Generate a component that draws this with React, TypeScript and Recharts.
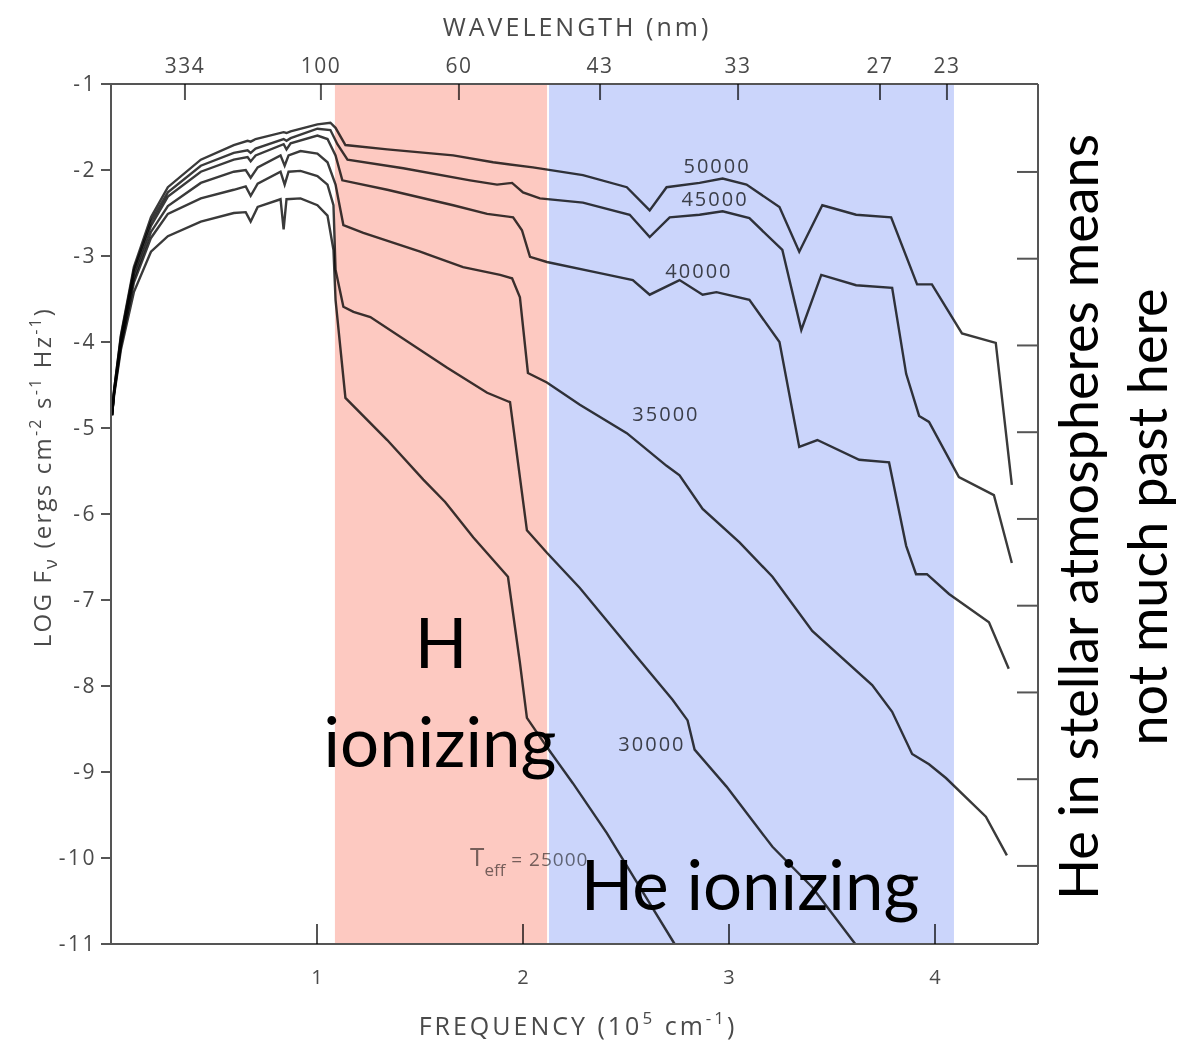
import React from 'react';
import {
  ComposedChart,
  Line,
  XAxis,
  YAxis,
  ReferenceArea,
  ReferenceDot,
} from 'recharts';

type Pt = [number, number];

// ---- axis ticks ----
const freqTicks = [1, 2, 3, 4];
const logTicks = [-11, -10, -9, -8, -7, -6, -5, -4, -3, -2, -1];
const rightTicks = [-10, -9, -8, -7, -6, -5, -4, -3, -2];
const rightDomain: [number, number] = [-10.9, -0.986];
const wavelengthLabels = ['334', '100', '60', '43', '33', '27', '23'];
const wavelengthTickFreq = [0.359, 1.019, 1.689, 2.374, 3.044, 3.733, 4.058];

// ---- shaded bands (frequency, 10^5 cm^-1) ----
const hBand: [number, number] = [1.087, 2.117];
const heBand: [number, number] = [2.126, 4.092];

// ---- model atmosphere flux curves: [frequency, log F_nu] ----
const s50000: Pt[] = [[0.005,-4.85],[0.015,-4.56],[0.048,-3.92],[0.111,-3.13],[0.194,-2.55],[0.276,-2.2],[0.436,-1.88],[0.596,-1.71],[0.663,-1.66],[0.678,-1.67],[0.702,-1.64],[0.838,-1.56],[0.852,-1.57],[0.872,-1.55],[1.002,-1.47],[1.065,-1.45],[1.09,-1.51],[1.138,-1.71],[1.341,-1.76],[1.661,-1.83],[1.855,-1.91],[2.048,-1.97],[2.291,-2.06],[2.504,-2.2],[2.615,-2.47],[2.697,-2.2],[2.857,-2.15],[2.969,-2.1],[3.085,-2.17],[3.245,-2.43],[3.341,-2.95],[3.453,-2.41],[3.617,-2.52],[3.787,-2.55],[3.913,-3.33],[3.985,-3.33],[4.131,-3.9],[4.295,-4.01],[4.373,-5.66]];
const s45000: Pt[] = [[0.005,-4.85],[0.015,-4.56],[0.048,-3.94],[0.111,-3.16],[0.194,-2.6],[0.276,-2.26],[0.436,-1.95],[0.596,-1.8],[0.663,-1.77],[0.678,-1.8],[0.702,-1.75],[0.838,-1.64],[0.852,-1.66],[0.872,-1.63],[1.002,-1.52],[1.065,-1.535],[1.099,-1.7],[1.148,-1.88],[1.419,-1.98],[1.743,-2.12],[1.874,-2.17],[1.947,-2.15],[2.0,-2.26],[2.082,-2.33],[2.291,-2.38],[2.518,-2.52],[2.615,-2.78],[2.712,-2.55],[2.857,-2.52],[2.969,-2.48],[3.099,-2.56],[3.259,-2.93],[3.351,-3.86],[3.448,-3.22],[3.617,-3.34],[3.792,-3.37],[3.86,-4.37],[3.923,-4.86],[3.971,-4.93],[4.116,-5.57],[4.286,-5.78],[4.373,-6.57]];
const s40000: Pt[] = [[0.005,-4.85],[0.015,-4.58],[0.048,-3.98],[0.111,-3.2],[0.194,-2.65],[0.276,-2.31],[0.436,-2.02],[0.596,-1.88],[0.663,-1.85],[0.678,-1.9],[0.702,-1.83],[0.838,-1.7],[0.852,-1.76],[0.872,-1.69],[1.002,-1.6],[1.051,-1.64],[1.09,-1.83],[1.123,-2.12],[1.341,-2.23],[1.661,-2.41],[1.826,-2.51],[1.952,-2.55],[1.995,-2.7],[2.034,-3.01],[2.116,-3.07],[2.373,-3.2],[2.533,-3.28],[2.615,-3.45],[2.76,-3.28],[2.872,-3.45],[2.939,-3.42],[3.099,-3.51],[3.245,-4.0],[3.341,-5.22],[3.429,-5.14],[3.632,-5.37],[3.777,-5.4],[3.86,-6.37],[3.908,-6.7],[3.961,-6.7],[4.068,-6.93],[4.262,-7.26],[4.358,-7.8]];
const s35000: Pt[] = [[0.005,-4.85],[0.015,-4.59],[0.048,-4.01],[0.111,-3.26],[0.194,-2.72],[0.276,-2.42],[0.436,-2.15],[0.596,-2.02],[0.654,-2.0],[0.678,-2.09],[0.712,-1.97],[0.823,-1.83],[0.843,-1.95],[0.862,-1.83],[0.92,-1.78],[1.002,-1.81],[1.051,-1.91],[1.09,-2.17],[1.128,-2.64],[1.225,-2.73],[1.501,-2.95],[1.709,-3.13],[1.889,-3.22],[1.947,-3.26],[1.985,-3.48],[2.024,-4.36],[2.116,-4.47],[2.276,-4.73],[2.504,-5.06],[2.697,-5.44],[2.76,-5.55],[2.872,-5.94],[3.051,-6.33],[3.211,-6.73],[3.404,-7.36],[3.695,-7.99],[3.792,-8.3],[3.889,-8.79],[3.971,-8.91],[4.053,-9.07],[4.247,-9.52],[4.349,-9.97]];
const s30000: Pt[] = [[0.005,-4.85],[0.015,-4.6],[0.048,-4.05],[0.111,-3.31],[0.194,-2.79],[0.276,-2.51],[0.436,-2.33],[0.596,-2.23],[0.654,-2.19],[0.678,-2.3],[0.712,-2.16],[0.823,-2.02],[0.843,-2.17],[0.862,-2.02],[0.92,-2.01],[1.002,-2.07],[1.051,-2.17],[1.08,-2.41],[1.09,-3.16],[1.128,-3.59],[1.177,-3.65],[1.259,-3.71],[1.632,-4.3],[1.826,-4.59],[1.937,-4.7],[2.019,-6.19],[2.116,-6.45],[2.276,-6.86],[2.552,-7.66],[2.726,-8.16],[2.799,-8.4],[2.833,-8.74],[2.988,-9.17],[3.211,-9.87],[3.404,-10.34],[3.613,-11.0]];
const s25000: Pt[] = [[0.005,-4.85],[0.015,-4.62],[0.048,-4.09],[0.111,-3.42],[0.194,-2.95],[0.276,-2.77],[0.436,-2.6],[0.596,-2.5],[0.654,-2.49],[0.678,-2.6],[0.712,-2.43],[0.823,-2.34],[0.838,-2.69],[0.852,-2.34],[0.92,-2.33],[1.002,-2.41],[1.051,-2.53],[1.08,-2.93],[1.09,-3.51],[1.138,-4.65],[1.341,-5.14],[1.516,-5.6],[1.622,-5.86],[1.758,-6.27],[1.927,-6.73],[1.985,-7.73],[2.019,-8.37],[2.116,-8.71],[2.242,-9.13],[2.407,-9.71],[2.567,-10.34],[2.736,-11.0]];

const seriesList: { name: string; pts: Pt[] }[] = [
  { name: '50000', pts: s50000 },
  { name: '45000', pts: s45000 },
  { name: '40000', pts: s40000 },
  { name: '35000', pts: s35000 },
  { name: '30000', pts: s30000 },
  { name: '25000', pts: s25000 },
];

// curve labels: [frequency, logF, text]
const curveLabels: [number, number, string][] = [
  [2.942, -1.953, '50000'],
  [2.932, -2.337, '45000'],
  [2.854, -3.163, '40000'],
  [2.694, -4.826, '35000'],
  [2.626, -8.663, '30000'],
];
const teffLabel: [number, number, string] = [1.743, -10.093, '25000'];

const AXIS = '#555';
const TXT = '#4a4a4a';
const LINE = '#3a3a3a';
const SCAN_FONT = "'Open Sans', 'DejaVu Sans', sans-serif";
const OVER_FONT = "Lato, 'Open Sans', sans-serif";
const MULT: React.CSSProperties = { mixBlendMode: 'multiply' };

function TopTick(props: any) {
  const { x, y, payload } = props;
  const i = wavelengthTickFreq.findIndex((v) => Math.abs(v - payload.value) < 1e-6);
  return (
    <g>
      <line x1={x} x2={x} y1={y} y2={y + 16} stroke={AXIS} strokeWidth={2} style={MULT} />
      <text x={x} y={y - 11} textAnchor="middle" fill={TXT} fontSize={21} fontFamily={SCAN_FONT} letterSpacing={1.5}>
        {i >= 0 ? wavelengthLabels[i] : ''}
      </text>
    </g>
  );
}

function BottomTick(props: any) {
  const { x, y, payload } = props;
  return (
    <g>
      <line x1={x} x2={x} y1={y - 20} y2={y} stroke={AXIS} strokeWidth={2} style={MULT} />
      <text x={x} y={y + 40} textAnchor="middle" fill={TXT} fontSize={20} fontFamily={SCAN_FONT}>
        {payload.value}
      </text>
    </g>
  );
}

function RightTick(props: any) {
  const { x, y } = props;
  return <line x1={x - 21} x2={x} y1={y} y2={y} stroke={AXIS} strokeWidth={2} />;
}

function bandShape(fill: string) {
  return (p: any) => (
    <rect x={p.x} y={p.y} width={p.width} height={p.height} fill={fill} style={MULT} />
  );
}

export default function App() {
  const W = 1192;
  const H = 1041;
  return (
    <div style={{ position: 'absolute', left: 0, top: 0, width: W, height: H, background: '#fff', isolation: 'isolate' }}>
      <ComposedChart width={W} height={H} margin={{ top: 0, right: 0, bottom: 0, left: 0 }}>
        <XAxis
          xAxisId="bottom"
          type="number"
          dataKey="f"
          domain={[0, 4.5]}
          ticks={freqTicks}
          interval={0}
          orientation="bottom"
          height={97}
          tickSize={0}
          tickMargin={0}
          tickLine={false}
          tick={<BottomTick />}
          axisLine={{ stroke: AXIS, strokeWidth: 2 }}
        />
        <XAxis
          xAxisId="top"
          type="number"
          dataKey="f"
          domain={[0, 4.5]}
          allowDataOverflow
          ticks={wavelengthTickFreq}
          interval={0}
          orientation="top"
          height={84}
          tickSize={0}
          tickMargin={0}
          tickLine={false}
          tick={<TopTick />}
          axisLine={{ stroke: AXIS, strokeWidth: 2 }}
        />
        <YAxis
          yAxisId="left"
          type="number"
          domain={[-11, -1]}
          ticks={logTicks}
          interval={0}
          width={111}
          tickSize={10}
          tickMargin={4}
          tickLine={{ stroke: AXIS, strokeWidth: 2 }}
          axisLine={{ stroke: AXIS, strokeWidth: 2 }}
          tick={{ fill: TXT, fontSize: 21, fontFamily: SCAN_FONT, letterSpacing: 2.5 }}
        />
        <YAxis
          yAxisId="right"
          orientation="right"
          type="number"
          domain={rightDomain}
          allowDataOverflow
          ticks={rightTicks}
          interval={0}
          width={154}
          tickSize={0}
          tickMargin={0}
          tickLine={false}
          tick={<RightTick />}
          axisLine={{ stroke: AXIS, strokeWidth: 2 }}
        />

        {/* invisible carrier series so the top and right frame axes get their tick marks */}
        <Line
          xAxisId="top"
          yAxisId="right"
          data={s50000.map(([f, L]) => ({ f, L }))}
          dataKey="L"
          stroke="none"
          strokeOpacity={0}
          dot={false}
          activeDot={false}
          legendType="none"
          isAnimationActive={false}
        />

        <ReferenceArea
          xAxisId="bottom"
          yAxisId="left"
          x1={hBand[0]}
          x2={hBand[1]}
          y1={-11}
          y2={-1}
          shape={bandShape('#fdc9c1')}
        />
        <ReferenceArea
          xAxisId="bottom"
          yAxisId="left"
          x1={heBand[0]}
          x2={heBand[1]}
          y1={-11}
          y2={-1}
          shape={bandShape('#cbd5fb')}
        />

        {seriesList.map((s) => (
          <Line
            key={s.name}
            name={s.name}
            xAxisId="bottom"
            yAxisId="left"
            data={s.pts.map(([f, L]) => ({ f, L }))}
            dataKey="L"
            type="linear"
            stroke={LINE}
            strokeWidth={2.4}
            style={MULT}
            dot={false}
            activeDot={false}
            isAnimationActive={false}
          />
        ))}

        {curveLabels.map(([f, L, t]) => (
          <ReferenceDot
            key={t}
            xAxisId="bottom"
            yAxisId="left"
            x={f}
            y={L}
            r={0}
            shape={(p: any) => (
              <text x={p.cx} y={p.cy} textAnchor="middle" dominantBaseline="central" fill={TXT} fontSize={20} fontFamily={SCAN_FONT} letterSpacing={2} style={MULT}>
                {t}
              </text>
            )}
          />
        ))}
        <ReferenceDot
          xAxisId="bottom"
          yAxisId="left"
          x={teffLabel[0]}
          y={teffLabel[1]}
          r={0}
          shape={(p: any) => (
            <text x={p.cx} y={p.cy} fill="#777" fontFamily={SCAN_FONT} fontSize={26} style={MULT}>
              T
              <tspan fontSize={17} dy={10}>eff</tspan>
              <tspan fontSize={19} dy={-10} letterSpacing={1}>{' = ' + teffLabel[2]}</tspan>
            </text>
          )}
        />
      </ComposedChart>

      <svg width={W} height={H} style={{ position: 'absolute', left: 0, top: 0, pointerEvents: 'none' }}>
        <text x={577} y={36} textAnchor="middle" fill={TXT} fontSize={25} fontFamily={SCAN_FONT} letterSpacing={3}>
          WAVELENGTH (nm)
        </text>
        <text x={578} y={1035} textAnchor="middle" fill={TXT} fontSize={25} fontFamily={SCAN_FONT} letterSpacing={3}>
          FREQUENCY (10
          <tspan fontSize={17} dy={-11}>5</tspan>
          <tspan dy={11}> cm</tspan>
          <tspan fontSize={17} dy={-11}>-1</tspan>
          <tspan dy={11}>)</tspan>
        </text>
        <text
          x={51}
          y={477}
          transform="rotate(-90 51 477)"
          textAnchor="middle"
          fill={TXT}
          fontSize={24}
          fontFamily={SCAN_FONT}
          letterSpacing={2.2}
        >
          LOG F
          <tspan fontSize={18} dy={6}>ν</tspan>
          <tspan dy={-6}> (ergs cm</tspan>
          <tspan fontSize={16} dy={-10}>-2</tspan>
          <tspan dy={10}> s</tspan>
          <tspan fontSize={16} dy={-10}>-1</tspan>
          <tspan dy={10}> Hz</tspan>
          <tspan fontSize={16} dy={-10}>-1</tspan>
          <tspan dy={10}>)</tspan>
        </text>

        <text x={441} y={668} textAnchor="middle" fill="#000" fontSize={69} fontFamily={OVER_FONT}>H</text>
        <text x={440} y={767} textAnchor="middle" fill="#000" fontSize={69} fontFamily={OVER_FONT}>ionizing</text>
        <text x={750} y={910} textAnchor="middle" fill="#000" fontSize={69} fontFamily={OVER_FONT}>He ionizing</text>
        <text
          x={1098}
          y={517}
          transform="rotate(-90 1098 517)"
          textAnchor="middle"
          fill="#000"
          fontSize={54}
          fontFamily={OVER_FONT}
        >
          He in stellar atmospheres means
        </text>
        <text
          x={1167}
          y={517}
          transform="rotate(-90 1167 517)"
          textAnchor="middle"
          fill="#000"
          fontSize={54}
          fontFamily={OVER_FONT}
        >
          not much past here
        </text>
      </svg>
    </div>
  );
}
